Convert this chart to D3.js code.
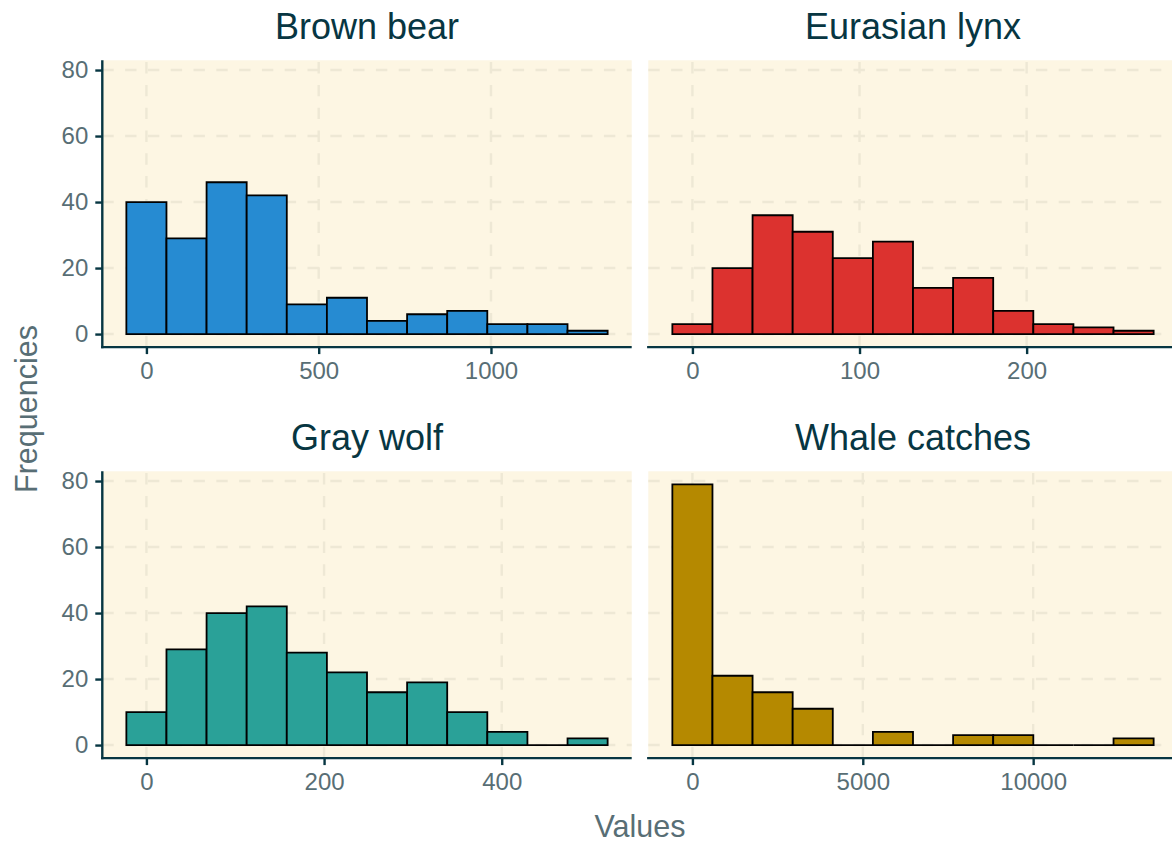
<!DOCTYPE html>
<html>
<head>
<meta charset="utf-8">
<script src="https://cdn.jsdelivr.net/npm/d3@7"></script>
<style>
  html, body { margin: 0; padding: 0; background: #ffffff; overflow: hidden; }
  svg { display: block; font-family: "Liberation Sans", Arial, Helvetica, sans-serif; }
</style>
</head>
<body>
<svg id="chart" width="1172" height="843"></svg>
<script>
// ---- data ----
const panelTitles = ["Brown bear", "Eurasian lynx", "Gray wolf", "Whale catches"];
const bearCounts  = [40, 29, 46, 42, 9, 11, 4, 6, 7, 3, 3, 1];
const lynxCounts  = [3, 20, 36, 31, 23, 28, 14, 17, 7, 3, 2, 1];
const wolfCounts  = [10, 29, 40, 42, 28, 22, 16, 19, 10, 4, 0, 2];
const whaleCounts = [79, 21, 16, 11, 0, 4, 0, 3, 3, 0, 0, 2];
const firstBinCenters = [0, 0, 0, 0];
const binWidths = [116.4, 24, 45.15, 1177];
const xTickValues = [[0, 500, 1000], [0, 100, 200], [0, 200, 400], [0, 5000, 10000]];
const yTickValues = [0, 20, 40, 60, 80];
const barColors = ["#268bd2", "#dc322f", "#2aa198", "#b58900"];
const xAxisTitle = "Values";
const yAxisTitle = "Frequencies";

const allCounts = [bearCounts, lynxCounts, wolfCounts, whaleCounts];

// ---- layout ----
const panelW = 529.4, panelH = 286.8;
const colX = [102.3, 648.3];
const rowY = [60.3, 471.3];
const bg = "#fdf6e3", gridCol = "#eee8d5", axisCol = "#073642",
      titleCol = "#073642", textCol = "#586e75";

const svg = d3.select("#chart");
const yMax = d3.max(allCounts.flat());
const yDomain = [-0.05 * yMax, yMax * 1.05];

allCounts.forEach((counts, i) => {
  const col = i % 2, row = Math.floor(i / 2);
  const x0 = colX[col], y0 = rowY[row];
  const w = binWidths[i];
  const firstEdge = firstBinCenters[i] - w / 2;
  const n = counts.length;
  const span = n * w;
  const xs = d3.scaleLinear()
    .domain([firstEdge - 0.05 * span, firstEdge + span + 0.05 * span])
    .range([x0, x0 + panelW]);
  const ys = d3.scaleLinear().domain(yDomain).range([y0 + panelH, y0]);

  const g = svg.append("g");
  // background
  g.append("rect").attr("x", x0).attr("y", y0).attr("width", panelW).attr("height", panelH).attr("fill", bg);

  // grid
  g.selectAll(".hg").data(yTickValues).enter().append("line")
    .attr("x1", x0).attr("x2", x0 + panelW)
    .attr("y1", d => ys(d)).attr("y2", d => ys(d))
    .attr("stroke", gridCol).attr("stroke-width", 2.4).attr("stroke-dasharray", "11.4,11.4");
  g.selectAll(".vg").data(xTickValues[i]).enter().append("line")
    .attr("x1", d => xs(d)).attr("x2", d => xs(d))
    .attr("y1", y0 + panelH).attr("y2", y0)
    .attr("stroke", gridCol).attr("stroke-width", 2.4).attr("stroke-dasharray", "11.4,11.4");

  // bars
  const bins = counts.map((c, k) => ({ x0: firstEdge + k * w, x1: firstEdge + (k + 1) * w, c }));
  g.selectAll(".bar").data(bins).enter().append("path")
    .attr("d", d => {
      const a = xs(d.x0), b = xs(d.x1), yb = ys(0), yt = ys(d.c);
      return `M${a},${yb}V${yt}H${b}V${yb}Z`;
    })
    .attr("fill", barColors[i]).attr("stroke", "#000").attr("stroke-width", 1.8)
    .attr("stroke-linejoin", "miter");

  // x axis
  const xAxis = d3.axisBottom(xs).tickValues(xTickValues[i]).tickSize(7).tickPadding(8).tickFormat(d3.format("d"));
  const xg = svg.append("g").attr("transform", `translate(0,${y0 + panelH})`).call(xAxis);
  xg.select(".domain").remove();
  xg.selectAll(".tick line").attr("stroke", axisCol).attr("stroke-width", 2.4);
  xg.selectAll(".tick text").attr("fill", textCol).style("font-size", "24px")
    .style("font-family", "'Liberation Sans', Arial, sans-serif").attr("dy", "0.71em");
  svg.append("line").attr("x1", x0 - 1.2).attr("x2", x0 + panelW)
    .attr("y1", y0 + panelH).attr("y2", y0 + panelH)
    .attr("stroke", axisCol).attr("stroke-width", 2.4);

  // y axis (left column only)
  if (col === 0) {
    const yAxis = d3.axisLeft(ys).tickValues(yTickValues).tickSize(7).tickPadding(7);
    const yg = svg.append("g").attr("transform", `translate(${x0},0)`).call(yAxis);
    yg.select(".domain").remove();
    yg.selectAll(".tick line").attr("stroke", axisCol).attr("stroke-width", 2.4);
    yg.selectAll(".tick text").attr("fill", textCol).style("font-size", "24px")
      .style("font-family", "'Liberation Sans', Arial, sans-serif");
    svg.append("line").attr("x1", x0).attr("x2", x0)
      .attr("y1", y0).attr("y2", y0 + panelH + 1.2)
      .attr("stroke", axisCol).attr("stroke-width", 2.4);
  }

  // panel title
  svg.append("text").attr("x", x0 + panelW / 2).attr("y", y0 - 21)
    .attr("text-anchor", "middle").attr("fill", titleCol)
    .style("font-size", "36px").text(panelTitles[i]);
});

// axis titles
svg.append("text").attr("x", 640).attr("y", 837).attr("text-anchor", "middle")
  .attr("fill", textCol).style("font-size", "30.5px").text(xAxisTitle);
svg.append("text").attr("transform", "translate(36.7,409) rotate(-90)").attr("text-anchor", "middle")
  .attr("fill", textCol).style("font-size", "30.5px").text(yAxisTitle);
</script>
</body>
</html>
